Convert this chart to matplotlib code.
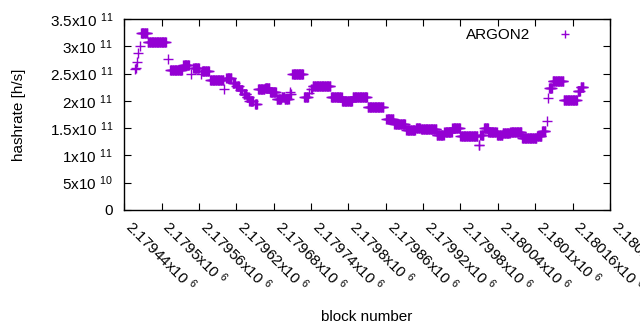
import numpy as np
import matplotlib
matplotlib.use('Agg')
import matplotlib.pyplot as plt
from matplotlib.ticker import FuncFormatter, MultipleLocator

plt.rcParams['font.family'] = ['Liberation Sans', 'DejaVu Sans']
plt.rcParams['mathtext.fontset'] = 'custom'
plt.rcParams['mathtext.rm'] = 'Liberation Sans'
plt.rcParams['mathtext.default'] = 'regular'

# hashrate runs: first block, last block, hashrate [h/s]
seg_first = [2179458, 2179459, 2179461, 2179462, 2179465, 2179467, 2179478, 2179511,
             2179514, 2179535, 2179548, 2179551, 2179564, 2179565, 2179578, 2179600,
             2179604, 2179614, 2179620, 2179626, 2179632, 2179637, 2179641, 2179650,
             2179655, 2179666, 2179674, 2179685, 2179693, 2179698, 2179706, 2179707,
             2179710, 2179729, 2179737, 2179740, 2179743, 2179772, 2179790, 2179807,
             2179831, 2179861, 2179874, 2179893, 2179909, 2179917, 2179942, 2179954,
             2179967, 2179980, 2180009, 2180012, 2180018, 2180025, 2180039, 2180048,
             2180060, 2180079, 2180103, 2180111, 2180119, 2180120, 2180122, 2180128,
             2180146, 2180168, 2180173]
seg_last = [2179458, 2179459, 2179461, 2179462, 2179465, 2179477, 2179507, 2179511,
            2179533, 2179544, 2179548, 2179560, 2179564, 2179576, 2179599, 2179600,
            2179612, 2179618, 2179624, 2179630, 2179636, 2179640, 2179647, 2179653,
            2179665, 2179673, 2179684, 2179692, 2179697, 2179704, 2179706, 2179708,
            2179727, 2179735, 2179737, 2179741, 2179771, 2179789, 2179806, 2179830,
            2179856, 2179872, 2179891, 2179907, 2179915, 2179941, 2179953, 2179966,
            2179979, 2180007, 2180010, 2180017, 2180024, 2180038, 2180047, 2180059,
            2180078, 2180102, 2180110, 2180116, 2180119, 2180120, 2180127, 2180145,
            2180167, 2180172, 2180177]
seg_value = [2.58e11, 2.61e11, 2.72e11, 2.87e11, 3.01e11, 3.25e11, 3.08e11, 2.77e11,
             2.56e11, 2.65e11, 2.49e11, 2.61e11, 2.49e11, 2.55e11, 2.38e11, 2.21e11,
             2.42e11, 2.33e11, 2.27e11, 2.20e11, 2.12e11, 2.07e11, 2.00e11, 1.94e11,
             2.21e11, 2.24e11, 2.17e11, 2.04e11, 2.08e11, 2.03e11, 2.17e11, 2.12e11,
             2.49e11, 2.08e11, 2.15e11, 2.22e11, 2.27e11, 2.07e11, 2.00e11, 2.07e11,
             1.89e11, 1.66e11, 1.57e11, 1.46e11, 1.51e11, 1.48e11, 1.37e11, 1.43e11,
             1.51e11, 1.36e11, 1.19e11, 1.37e11, 1.50e11, 1.43e11, 1.37e11, 1.41e11,
             1.42e11, 1.32e11, 1.35e11, 1.45e11, 1.63e11, 2.05e11, 2.23e11, 2.36e11,
             2.01e11, 2.19e11, 2.25e11]

blocks = []
rates = []
for a, b, v in zip(seg_first, seg_last, seg_value):
    for blk in range(a, b + 1):
        blocks.append(blk)
        rates.append(v)


def sci(v, pos=None):
    if v == 0:
        return '0'
    m, e = '{:e}'.format(v).split('e')
    m = m.rstrip('0').rstrip('.')
    return '{}x10 $^{{{}}}$'.format(m, int(e))


fig = plt.figure(figsize=(6.4, 3.3), dpi=100)
ax = fig.add_axes([0.194, 0.364, 0.759, 0.578])

ax.plot(blocks, rates, linestyle='none', marker='+', markersize=6.5,
        markeredgewidth=1.0, color='#9400d3', label='ARGON2')

ax.set_xlim(2179440, 2180220)
ax.set_ylim(0, 3.5e11)
ax.xaxis.set_major_locator(MultipleLocator(60))
ax.yaxis.set_major_locator(MultipleLocator(5e10))
ax.xaxis.set_major_formatter(FuncFormatter(sci))
ax.yaxis.set_major_formatter(FuncFormatter(sci))

ax.tick_params(direction='in', length=5, top=True, right=True, labelsize=11)
ax.tick_params(axis='y', pad=8)
ax.tick_params(axis='x', pad=13)
plt.setp(ax.get_xticklabels(), rotation=-45, ha='left', va='baseline',
         rotation_mode='anchor')
for s in ax.spines.values():
    s.set_linewidth(1.0)

ax.set_xlabel('block number', fontsize=11)
ax.set_ylabel('hashrate [h/s]', fontsize=11)
ax.xaxis.set_label_coords(0.5, -0.525)
ax.yaxis.set_label_coords(-0.202, 0.5)

ax.legend(loc='upper right', frameon=False, markerfirst=False, fontsize=11,
          handlelength=1.5, handletextpad=1.5, markerscale=0.8,
          borderaxespad=0.2, bbox_to_anchor=(0.95, 1.0))

fig.savefig('out.png', dpi=100)
